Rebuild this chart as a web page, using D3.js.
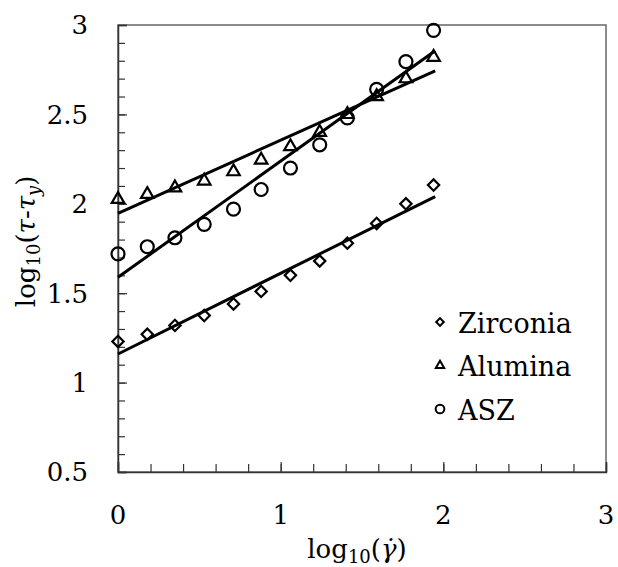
<!DOCTYPE html>
<html>
<head>
<meta charset="utf-8">
<script src="https://cdn.jsdelivr.net/npm/d3@7"></script>
<style>
  body { margin: 0; background: #fff; }
  text { font-family: "DejaVu Serif", serif; fill: #000; }
</style>
</head>
<body>
<div id="chart"></div>
<script>
// log10 of shear rate (x) for every series
var logRate = [0, 0.18, 0.35, 0.53, 0.71, 0.88, 1.06, 1.24, 1.41, 1.59, 1.77, 1.94];
// log10(tau - tau_y) measured
var zirconia = [1.23, 1.27, 1.32, 1.375, 1.44, 1.51, 1.60, 1.68, 1.78, 1.89, 2.00, 2.105];
var alumina  = [2.025, 2.053, 2.09, 2.128, 2.18, 2.245, 2.32, 2.40, 2.50, 2.60, 2.70, 2.82];
var asz      = [1.72, 1.76, 1.81, 1.885, 1.97, 2.08, 2.20, 2.33, 2.48, 2.64, 2.795, 2.97];
// power-law fit lines, value at each end of fitX
var fitX = [0, 1.95];
var zirconiaFit = [1.16, 2.04];
var aluminaFit  = [1.947, 2.744];
var aszFit      = [1.589, 2.856];

var seriesNames = ["Zirconia", "Alumina", "ASZ"];
var xTickLabels = [0, 1, 2, 3];
var yTickLabels = [0.5, 1, 1.5, 2, 2.5, 3];

var W = 618, H = 567;
var margin = {top: 25, right: 12, bottom: 95, left: 118},
    width = W - margin.left - margin.right,
    height = H - margin.top - margin.bottom;

var svg = d3.select("#chart").append("svg")
    .attr("width", W).attr("height", H)
  .append("g")
    .attr("transform", "translate(" + margin.left + "," + margin.top + ")");

var x = d3.scaleLinear().domain([0, 3]).range([0, width]);
var y = d3.scaleLinear().domain([0.5, 3]).range([height, 0]);

// frame (top / right are lighter)
svg.append("rect")
    .attr("width", width).attr("height", height)
    .attr("fill", "none").attr("stroke", "#666").attr("stroke-width", 1.5);

// minor + major ticks, pointing inward
svg.append("g")
    .attr("transform", "translate(0," + height + ")")
    .call(d3.axisBottom(x).tickValues(d3.range(0, 3.01, 0.2)).tickSize(-8).tickFormat(""))
    .call(g => g.select(".domain").remove());
svg.append("g")
    .attr("transform", "translate(0," + height + ")")
    .call(d3.axisBottom(x).tickValues(xTickLabels).tickSize(-10).tickFormat(""))
    .call(g => g.select(".domain").attr("stroke", "#333").attr("stroke-width", 1.5));
svg.append("g")
    .call(d3.axisLeft(y).tickValues(d3.range(0.5, 3.01, 0.1)).tickSize(-7).tickFormat(""))
    .call(g => g.select(".domain").remove());
svg.append("g")
    .call(d3.axisLeft(y).tickValues(yTickLabels).tickSize(-9).tickFormat(""))
    .call(g => g.select(".domain").attr("stroke", "#333").attr("stroke-width", 1.5));
svg.selectAll(".tick line").attr("stroke", "#333").attr("stroke-width", 1.2);

// tick labels
svg.selectAll(".xlab").data(xTickLabels).enter().append("text")
    .attr("x", d => x(d)).attr("y", height + 52)
    .attr("text-anchor", "middle").style("font-size", "26px")
    .text(d => d);
svg.selectAll(".ylab").data(yTickLabels).enter().append("text")
    .attr("x", -30).attr("y", d => y(d)).attr("dy", "0.36em")
    .attr("text-anchor", "end").style("font-size", "26px")
    .text(d => d);

// axis titles
var xt = svg.append("text")
    .attr("x", x(1.5) - 5).attr("y", height + 86)
    .attr("text-anchor", "middle").style("font-size", "26px");
xt.append("tspan").text("log");
xt.append("tspan").attr("baseline-shift", "-25%").style("font-size", "18px").text("10");
xt.append("tspan").text("(");
xt.append("tspan").style("font-style", "italic").text("\u03B3\u0307");
xt.append("tspan").text(")");

var yt = svg.append("text")
    .attr("transform", "translate(" + (-83) + "," + y(1.79) + ") rotate(-90)")
    .attr("text-anchor", "middle").style("font-size", "26px");
yt.append("tspan").text("log");
yt.append("tspan").attr("baseline-shift", "-25%").style("font-size", "18px").text("10");
yt.append("tspan").text("(");
yt.append("tspan").style("font-style", "italic").text("\u03C4");
yt.append("tspan").text("-");
yt.append("tspan").style("font-style", "italic").text("\u03C4");
yt.append("tspan").attr("baseline-shift", "-25%").style("font-size", "18px").style("font-style", "italic").text("y");
yt.append("tspan").text(")");

// fit lines
var line = d3.line().x(d => x(d[0])).y(d => y(d[1]));
[zirconiaFit, aluminaFit, aszFit].forEach(function(f) {
  svg.append("path")
      .datum(fitX.map((v, i) => [v, f[i]]))
      .attr("d", line)
      .attr("fill", "none").attr("stroke", "#000").attr("stroke-width", 3);
});

// markers
var symbols = [
  {type: d3.symbolSquare, size: 64, rot: 45},
  {type: d3.symbolTriangle, size: 68, rot: 0},
  {type: d3.symbolCircle, size: 132, rot: 0}
];
[zirconia, alumina, asz].forEach(function(vals, k) {
  var s = symbols[k];
  svg.selectAll(".pt" + k).data(vals).enter().append("path")
      .attr("d", d3.symbol().type(s.type).size(s.size))
      .attr("transform", (d, i) => "translate(" + x(logRate[i]) + "," + y(d) + ") rotate(" + s.rot + ")")
      .attr("fill", "none").attr("stroke", "#000").attr("stroke-width", 2.2);
});

// legend
var legend = svg.append("g").attr("transform", "translate(322,297)");
seriesNames.forEach(function(name, k) {
  var s = symbols[k];
  var g = legend.append("g").attr("transform", "translate(0," + (k * 43.5) + ")");
  g.append("path")
      .attr("d", d3.symbol().type(s.type).size(s.size * 0.45))
      .attr("transform", "rotate(" + s.rot + ")")
      .attr("fill", "none").attr("stroke", "#000").attr("stroke-width", 2);
  g.append("text").attr("x", 18).attr("y", 10.5)
      .style("font-size", "27px").text(name);
});
</script>
</body>
</html>
